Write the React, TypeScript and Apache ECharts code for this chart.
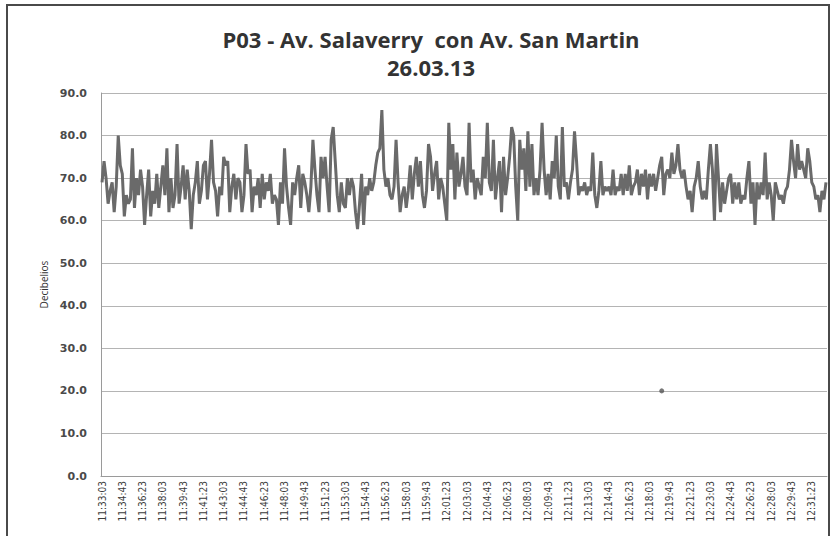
import React, { useEffect, useRef } from "react";
import * as echarts from "echarts";

const SEG_1 = [69, 74, 70, 64, 67, 69, 62, 68, 80, 73, 71, 61, 66, 64, 65, 77, 63, 70, 66, 72, 68, 59, 66, 72, 61, 67, 64, 71, 63, 68, 73, 66, 77, 62, 70, 63, 66, 78, 64, 68, 73, 65, 72, 67, 58, 66, 69, 74, 64, 67, 73, 74, 65, 71, 79, 69, 67, 61, 68, 66, 75, 73, 74, 62, 68, 71, 65, 70, 69, 62, 66, 78];
const SEG_2 = [71, 72, 62, 68, 66, 70, 63, 71, 65, 69, 67, 71, 64, 66, 65, 59, 69, 64, 77, 68, 63, 59, 69, 66, 70, 73, 63, 71, 69, 66, 62, 68, 79, 72, 66, 62, 75, 70, 75, 68, 62, 79, 82, 74, 66, 62, 69, 64, 63, 70, 66, 70, 68, 62, 58, 64, 71, 59, 68, 66, 70, 67, 69, 73, 76, 77, 86, 72, 68, 70, 66, 65];
const SEG_3 = [68, 79, 69, 62, 66, 68, 63, 67, 73, 65, 71, 75, 68, 74, 66, 63, 67, 78, 75, 67, 71, 74, 65, 70, 68, 64, 60, 83, 72, 78, 65, 76, 68, 71, 75, 68, 66, 83, 69, 72, 65, 70, 68, 66, 75, 70, 83, 69, 67, 79, 65, 70, 74, 62, 75, 66, 70, 75, 82, 80, 68, 60, 79, 72, 77, 67, 81, 68, 78, 66, 70];
const SEG_4 = [66, 72, 83, 72, 66, 71, 65, 74, 70, 80, 68, 65, 82, 68, 69, 65, 69, 72, 81, 74, 66, 68, 67, 69, 66, 68, 67, 76, 66, 63, 67, 74, 66, 68, 67, 68, 66, 72, 66, 68, 67, 71, 66, 71, 67, 73, 66, 68, 69, 72, 66, 71, 68, 72, 65, 71, 68, 71, 67, 70, 73, 75, 66, 71, 72, 70, 76, 71, 73, 78, 72, 70];
const SEG_5 = [72, 68, 65, 67, 62, 68, 70, 74, 68, 65, 67, 65, 72, 78, 72, 60, 78, 70, 62, 69, 64, 67, 70, 71, 64, 69, 65, 69, 64, 66, 65, 70, 74, 64, 69, 59, 69, 65, 69, 66, 76, 65, 69, 66, 60, 69, 67, 65, 66, 64, 67, 68, 72, 79, 74, 70, 78, 72, 74, 72, 70, 77, 74, 69, 68, 65, 66, 62, 67, 65, 69];
const DECIBELS = [...SEG_1, ...SEG_2, ...SEG_3, ...SEG_4, ...SEG_5];

// Isolated point shown as a dot
const OUTLIER_INDEX = 276;
const OUTLIER_VALUE = 20;

const START_TIME = "11:33:03";
const STEP_SECONDS = 10;
const Y_TICKS = [0, 10, 20, 30, 40, 50, 60, 70, 80, 90];

const TITLE = "P03 - Av. Salaverry  con Av. San Martin";
const SUBTITLE = "26.03.13";
const Y_NAME = "Decibelios";

function buildTimes(start: string, step: number, n: number): string[] {
  const [h, m, s] = start.split(":").map(Number);
  const base = h * 3600 + m * 60 + s;
  const out: string[] = [];
  for (let i = 0; i < n; i++) {
    const t = base + i * step;
    const hh = Math.floor(t / 3600);
    const mm = Math.floor((t % 3600) / 60);
    const ss = t % 60;
    out.push(`${hh}:${String(mm).padStart(2, "0")}:${String(ss).padStart(2, "0")}`);
  }
  return out;
}

export default function App() {
  const ref = useRef<HTMLDivElement>(null);
  useEffect(() => {
    if (!ref.current) return;
    const chart = echarts.init(ref.current, null, { renderer: "svg" });
    const times = buildTimes(START_TIME, STEP_SECONDS, DECIBELS.length);
    chart.setOption({
      animation: false,
      backgroundColor: "#ffffff",
      title: {
        text: TITLE + "\n" + SUBTITLE,
        left: 426,
        top: 20,
        textAlign: "center",
        textStyle: {
          fontFamily: "Open Sans",
          fontWeight: "bold",
          fontSize: 22,
          color: "#333333",
          lineHeight: 28,
        },
      },
      graphic: [
        {
          type: "rect",
          shape: { x: 7, y: 5, width: 822, height: 545 },
          style: { fill: "none", stroke: "#4a4a4a", lineWidth: 2 },
          silent: true,
        },
      ],
      grid: { left: 101, right: 5, top: 93, bottom: 60, containLabel: false },
      xAxis: {
        type: "category",
        data: times,
        boundaryGap: true,
        axisLine: { show: true, lineStyle: { color: "#9a9a9a" } },
        axisTick: { show: false },
        axisLabel: {
          interval: 9,
          rotate: 90,
          fontFamily: "DejaVu Sans Condensed, DejaVu Sans",
          fontSize: 10,
          color: "#3c3c3c",
          margin: 5,
        },
        splitLine: { show: false },
      },
      yAxis: {
        type: "value",
        min: Y_TICKS[0],
        max: Y_TICKS[Y_TICKS.length - 1],
        interval: 10,
        name: Y_NAME,
        nameLocation: "middle",
        nameRotate: 90,
        nameGap: 52,
        nameTextStyle: { fontFamily: "Open Sans", fontSize: 10, color: "#333" },
        axisLine: { show: true, lineStyle: { color: "#9a9a9a" } },
        axisTick: { show: false },
        axisLabel: {
          formatter: (v: number) => v.toFixed(1),
          fontFamily: "DejaVu Sans",
          fontWeight: "bold",
          fontSize: 11,
          color: "#4a4a4a",
          margin: 14,
        },
        splitLine: { show: true, lineStyle: { color: "#b4b4b4", width: 1 } },
      },
      series: [
        {
          type: "line",
          data: DECIBELS,
          symbol: "none",
          lineStyle: { color: "#6a6a6a", width: 3 },
          z: 3,
        },
        {
          type: "scatter",
          data: [[OUTLIER_INDEX, OUTLIER_VALUE]],
          symbolSize: 5,
          itemStyle: { color: "#555" },
          z: 4,
        },
      ],
    });
    return () => chart.dispose();
  }, []);
  return (
    <div
      ref={ref}
      style={{ position: "fixed", left: 0, top: 0, width: 832, height: 536 }}
    />
  );
}
